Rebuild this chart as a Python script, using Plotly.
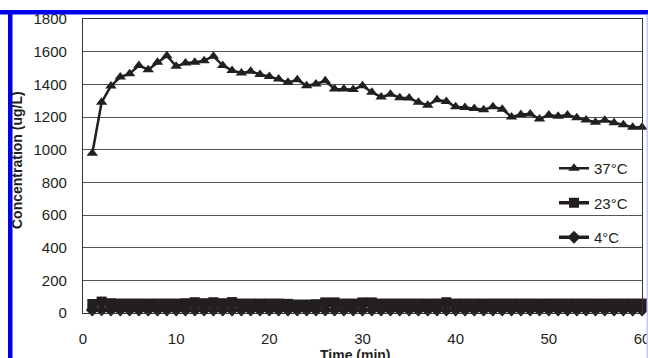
import plotly.graph_objects as go

# ---------------- data ----------------
time_min = list(range(1, 61))
series_names = ["37°C", "23°C", "4°C"]
conc_37 = [978, 1290, 1390, 1445, 1465, 1515, 1490, 1535, 1575, 1510,
           1530, 1535, 1545, 1572, 1515, 1485, 1470, 1480, 1460, 1448,
           1432, 1412, 1428, 1392, 1402, 1422, 1372, 1372, 1368, 1392,
           1352, 1322, 1340, 1318, 1316, 1290, 1272, 1305, 1295, 1262,
           1258, 1252, 1245, 1262, 1248, 1200, 1215, 1218, 1188, 1212,
           1205, 1212, 1196, 1182, 1168, 1180, 1165, 1152, 1138, 1138]
conc_23 = [55, 70, 60, 58, 58, 58, 58, 58, 58, 58,
           60, 66, 60, 66, 60, 67, 58, 58, 58, 58,
           58, 56, 52, 52, 54, 65, 65, 58, 58, 65,
           65, 58, 58, 58, 58, 58, 58, 58, 66, 58,
           58, 58, 58, 58, 58, 58, 58, 58, 58, 58,
           58, 58, 58, 58, 58, 58, 58, 58, 58, 58]
conc_4 = [18, 20, 18, 18, 19, 18, 18, 19, 18, 18,
          18, 19, 18, 18, 19, 18, 18, 18, 19, 18,
          18, 19, 18, 18, 18, 19, 18, 18, 19, 18,
          18, 18, 19, 18, 18, 19, 18, 18, 18, 19,
          18, 18, 19, 18, 18, 18, 19, 18, 18, 19,
          18, 18, 18, 19, 18, 18, 19, 18, 18, 18]
x_ticks = [0, 10, 20, 30, 40, 50, 60]
y_ticks = [0, 200, 400, 600, 800, 1000, 1200, 1400, 1600, 1800]

# ---------------- layout geometry ----------------
W, H = 648, 358
L, R, T, B = 83, 6, 19, 45
PW, PH = W - L - R, H - T - B


def px2x(px):
    return (px - L) / PW


def py2y(py):
    return (H - B - py) / PH


INK = "#231f20"
FONT = "Arial, Liberation Sans, sans-serif"

fig = go.Figure()
symbols = ["triangle-up", "square", "diamond"]
sizes = [10, 10, 10]
for name, vals, sym, sz in zip(series_names, [conc_37, conc_23, conc_4], symbols, sizes):
    fig.add_trace(go.Scatter(
        x=time_min, y=vals, name=name, mode="lines+markers",
        line=dict(color=INK, width=2.5 if name == "37°C" else 3.5),
        marker=dict(symbol=sym, size=sz, color=INK),
        cliponaxis=False, legendgroup=name,
    ))

fig.update_layout(
    width=W, height=H,
    margin=dict(l=L, r=R, t=T, b=B, pad=0, autoexpand=False),
    paper_bgcolor="white", plot_bgcolor="white",
    font=dict(family=FONT, size=15, color=INK),
    showlegend=True,
    legend=dict(x=px2x(554), y=py2y(152), xanchor="left", yanchor="top",
                bgcolor="rgba(0,0,0,0)", borderwidth=0,
                font=dict(family=FONT, size=15, color=INK),
                tracegroupgap=12, traceorder="grouped"),
    xaxis=dict(range=[0, 60], tickvals=x_ticks, showgrid=False, zeroline=False,
               showline=True, linecolor="#333", linewidth=1.2, mirror=True,
               ticks="", ticklabelstandoff=12, tickfont=dict(size=15),
               ticklabeloverflow="allow", automargin=False),
    yaxis=dict(range=[0, 1800], tickvals=y_ticks, showgrid=True, gridcolor="#555",
               gridwidth=1.2, zeroline=False, showline=True, linecolor="#333",
               linewidth=1.2, mirror=True, ticks="", ticklabelstandoff=12,
               tickfont=dict(size=15), ticklabeloverflow="allow", automargin=False),
    annotations=[
        dict(text="<b>Concentration (ug/L)</b>", textangle=-90, xref="paper", yref="paper",
             x=px2x(17), y=py2y(160), xanchor="center", yanchor="middle", showarrow=False,
             font=dict(family=FONT, size=14, color=INK)),
        dict(text="<b>Time (min)</b>", xref="paper", yref="paper",
             x=px2x(355), y=py2y(345), xanchor="center", yanchor="top", showarrow=False,
             font=dict(family=FONT, size=14, color=INK)),
    ],
    shapes=[
        dict(type="rect", xref="paper", yref="paper", layer="above",
             x0=px2x(0), x1=px2x(648), y0=py2y(14.5), y1=py2y(10),
             fillcolor="#0000ee", line=dict(width=0)),
        dict(type="rect", xref="paper", yref="paper", layer="above",
             x0=px2x(8), x1=px2x(12.5), y0=py2y(358), y1=py2y(10),
             fillcolor="#0000ee", line=dict(width=0)),
        dict(type="rect", xref="paper", yref="paper", layer="above",
             x0=px2x(646.5), x1=px2x(648), y0=py2y(358), y1=py2y(14.5),
             fillcolor="#c8c8f0", line=dict(width=0)),
    ],
)

fig.write_html(
    "out.html",
    config={"displayModeBar": False},
    post_script="document.body.style.margin='0';document.body.style.overflow='hidden';",
)
